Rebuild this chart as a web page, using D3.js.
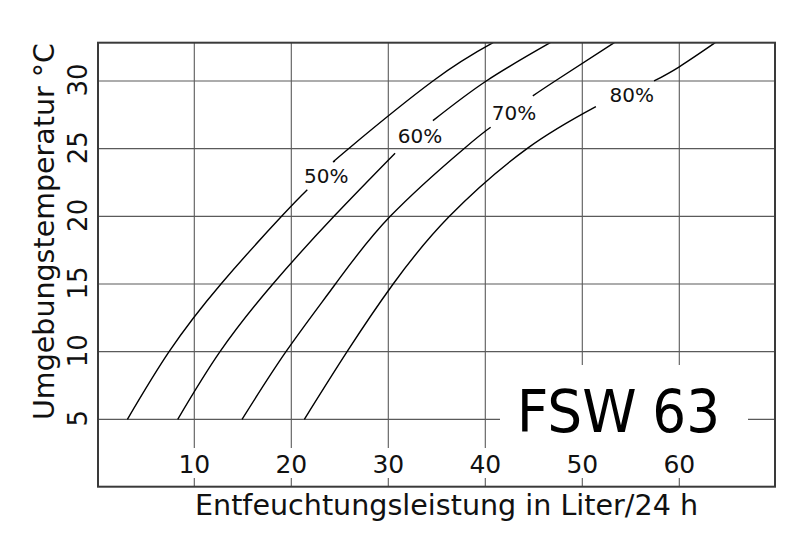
<!DOCTYPE html>
<html>
<head>
<meta charset="utf-8">
<script src="https://cdn.jsdelivr.net/npm/d3@7"></script>
<style>
  html, body { margin: 0; padding: 0; background: #fff; }
  svg { display: block; font-family: "DejaVu Sans", sans-serif; }
</style>
</head>
<body>
<svg id="chart" width="800" height="552"></svg>
<script>
// ---- data (x = Entfeuchtungsleistung L/24h, y = Umgebungstemperatur °C) ----
const xTicks = [10, 20, 30, 40, 50, 60];
const yTicks = [5, 10, 15, 20, 25, 30];
const seriesNames = ["50%", "60%", "70%", "80%"];

// each curve is split into a lower and upper part (gap for the label)
const curve50Lower = [[3.1,5],[7.4,10],[12.75,15],[19.0,20],[21.65,21.96]];
const curve50Upper = [[24.5,24.1],[25.9,25],[34.6,30],[40.8,32.83]];
const curve60Lower = [[8.29,5],[12.65,10],[18.1,15],[24.4,20],[30.7,24.66]];
const curve60Upper = [[34.6,27.07],[40.1,30],[46.7,32.83]];
const curve70Lower = [[14.92,5],[19.45,10],[24.55,15],[30.2,20],[37.8,25],[40.55,26.58]];
const curve70Upper = [[44.9,28.9],[47.2,30],[53.3,32.83]];
const curve80Lower = [[21.34,5],[25.75,10],[30.5,15],[36.3,20],[44.3,25],[51.4,28.1]];
const curve80Upper = [[57.4,30.0],[60,31.05],[63.7,32.83]];

// label anchor positions (data coords: x centre, y baseline) for the curve labels
const labelPos = [[23.6,22.49],[33.27,25.40],[42.96,27.12],[55.09,28.48]];

const xTitle = "Entfeuchtungsleistung in Liter/24 h";
const yTitle = "Umgebungstemperatur °C";
const modelName = ["FSW", "63"];

// ---- layout ----
const svg = d3.select("#chart");
const L = 98, R = 775, T = 42.7, B = 486.7;

const x = d3.scaleLinear().domain([0, 70]).range([97.3, 776.3]);
const y = d3.scaleLinear().domain([0, 32.83]).range([487, 42.7]);

const gridColor = "#5a5a5a";

// gridlines
svg.append("g").selectAll("line").data(yTicks).join("line")
  .attr("x1", L).attr("x2", R)
  .attr("y1", d => y(d)).attr("y2", d => y(d))
  .attr("stroke", gridColor).attr("stroke-width", 1.1);

svg.append("g").selectAll("line").data(xTicks).join("line")
  .attr("x1", d => x(d)).attr("x2", d => x(d))
  .attr("y1", T).attr("y2", B)
  .attr("stroke", gridColor).attr("stroke-width", 1.1);

// white backgrounds for tick labels inside plot
svg.append("g").selectAll("rect").data(xTicks).join("rect")
  .attr("x", d => x(d) - 20).attr("width", 40)
  .attr("y", 448).attr("height", 30)
  .attr("fill", "#fff");

// white box behind model name
svg.append("rect")
  .attr("x", 500).attr("y", 365).attr("width", 248).attr("height", 113)
  .attr("fill", "#fff");

// curves
const line = d3.line().x(d => x(d[0])).y(d => y(d[1])).curve(d3.curveNatural);
const pieces = [curve50Lower, curve50Upper, curve60Lower, curve60Upper,
                curve70Lower, curve70Upper, curve80Lower, curve80Upper];
svg.append("g").selectAll("path").data(pieces).join("path")
  .attr("d", line)
  .attr("fill", "none").attr("stroke", "#000").attr("stroke-width", 1.4);

// curve labels
svg.append("g").selectAll("text").data(seriesNames).join("text")
  .attr("x", (d, i) => x(labelPos[i][0]))
  .attr("y", (d, i) => y(labelPos[i][1]))
  .attr("text-anchor", "middle")
  .attr("font-size", 20)
  .attr("fill", "#111")
  .text(d => d);

// x tick labels
svg.append("g").selectAll("text").data(xTicks).join("text")
  .attr("x", d => x(d)).attr("y", 473)
  .attr("text-anchor", "middle")
  .attr("font-size", 25)
  .attr("fill", "#111")
  .text(d => d);

// y tick labels (rotated)
svg.append("g").selectAll("text").data(yTicks).join("text")
  .attr("transform", d => `translate(87,${y(d) - 1}) rotate(-90)`)
  .attr("text-anchor", "middle")
  .attr("font-size", 26)
  .attr("fill", "#111")
  .text(d => d);

// frame
svg.append("rect")
  .attr("x", L).attr("y", T).attr("width", R - L).attr("height", B - T)
  .attr("fill", "none").attr("stroke", "#3a3a3a").attr("stroke-width", 2);

// axis titles
svg.append("text")
  .attr("x", 446.5).attr("y", 515)
  .attr("text-anchor", "middle")
  .attr("font-size", 28)
  .attr("textLength", 503).attr("lengthAdjust", "spacingAndGlyphs")
  .attr("fill", "#111")
  .text(xTitle);

svg.append("text")
  .attr("transform", "translate(54,231.5) rotate(-90)")
  .attr("text-anchor", "middle")
  .attr("font-size", 28.5)
  .attr("textLength", 377).attr("lengthAdjust", "spacingAndGlyphs")
  .attr("fill", "#111")
  .text(yTitle);

// model name
const mt = svg.append("text")
  .attr("y", 431.7)
  .attr("font-size", 59)
  .attr("fill", "#000");
mt.append("tspan").attr("x", 516.7)
  .attr("textLength", 120).attr("lengthAdjust", "spacingAndGlyphs")
  .text(modelName[0]);
mt.append("tspan").text(" ").attr("font-size", 1);
mt.append("tspan").attr("x", 652.3)
  .attr("textLength", 67.7).attr("lengthAdjust", "spacingAndGlyphs")
  .text(modelName[1]);
</script>
</body>
</html>
